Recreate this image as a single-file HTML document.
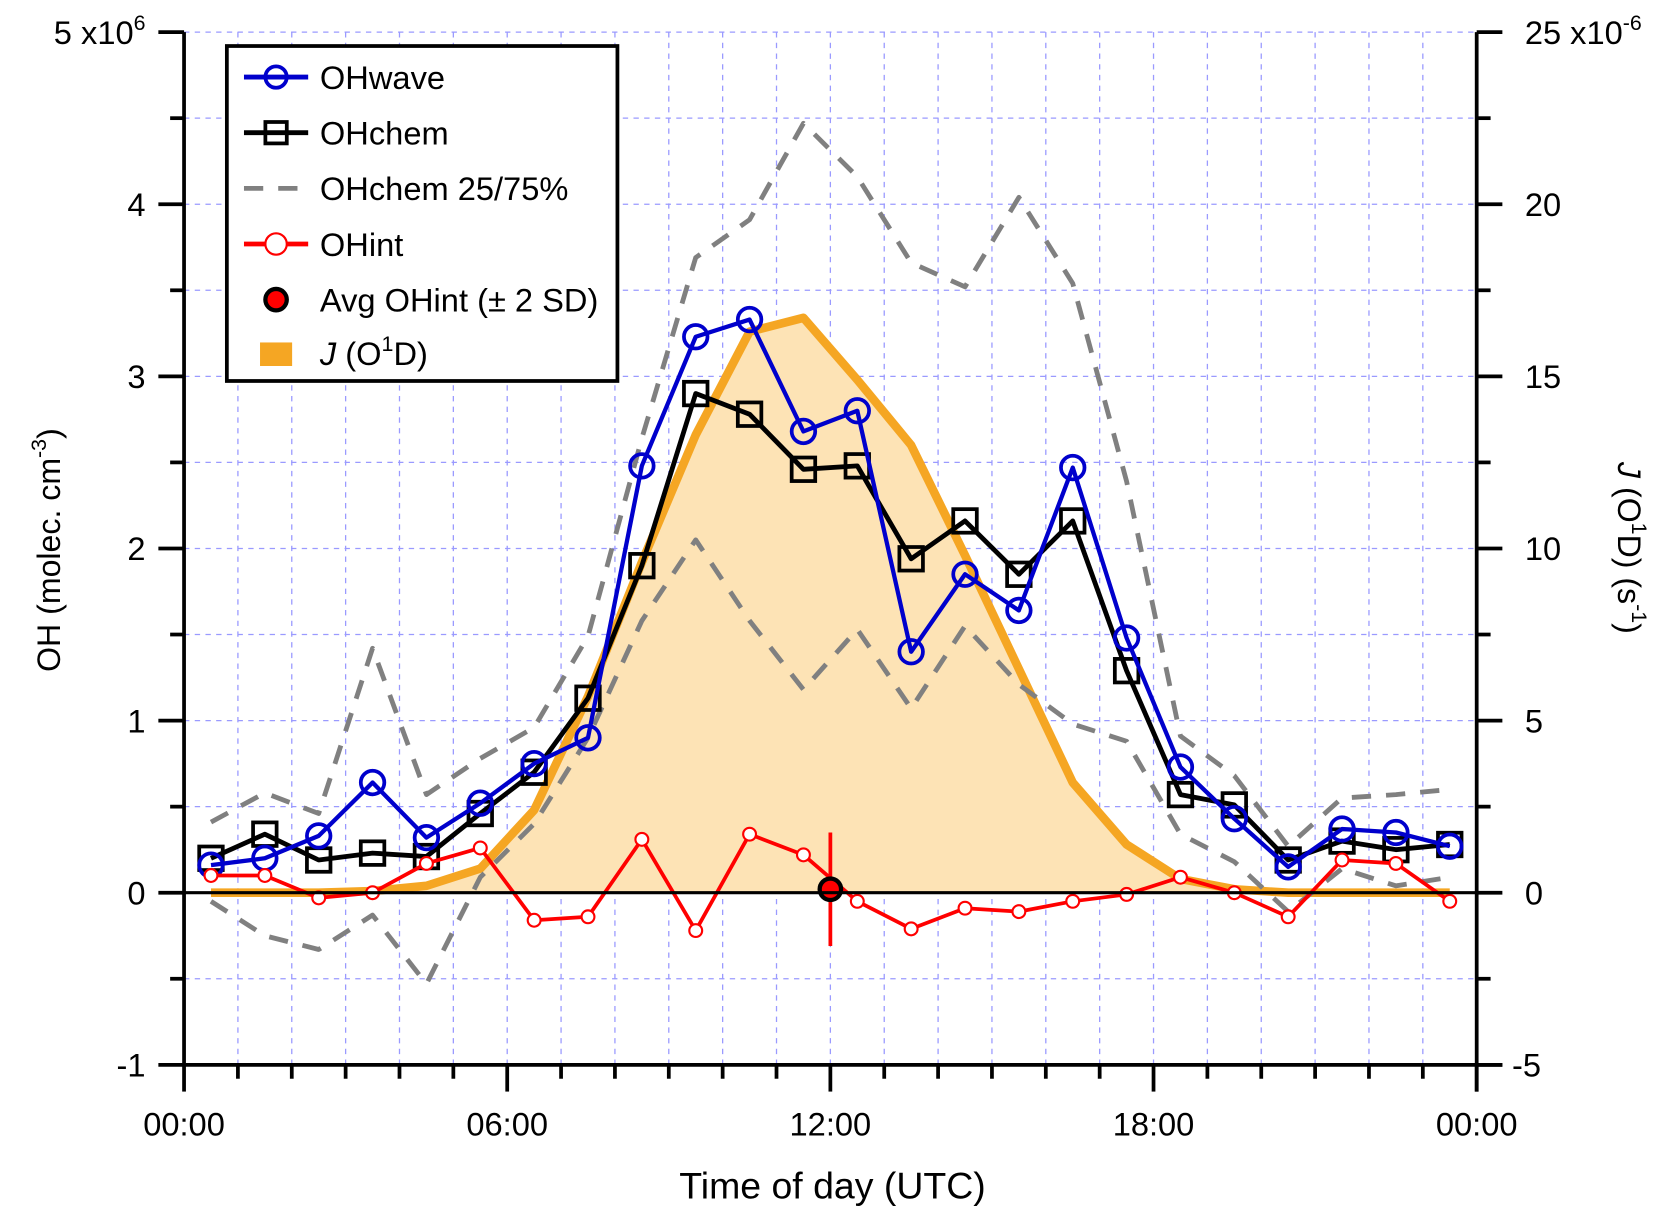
<!DOCTYPE html>
<html><head><meta charset="utf-8"><style>
html,body{margin:0;padding:0;background:#fff}
svg{display:block;font-family:"Liberation Sans",Arial,sans-serif}
</style></head><body>
<svg id="chart" width="1680" height="1220" viewBox="0 0 1570 1140" preserveAspectRatio="none" xmlns="http://www.w3.org/2000/svg">
<g id="grid"></g>
<g id="jlayer"></g>
<g id="series"></g>
<g id="axes"></g>
<text x="778" y="1120" font-size="35" text-anchor="middle">Time of day (UTC)</text>
<text transform="translate(56,514) rotate(-90)" font-size="30" text-anchor="middle">OH (molec. cm<tspan dy="-13" font-size="20">-3</tspan><tspan dy="13">)</tspan></text>
<text transform="translate(1512,512) rotate(90)" font-size="30" text-anchor="middle"><tspan font-style="italic">J</tspan> (O<tspan dy="-13" font-size="20">1</tspan><tspan dy="13">D) (s</tspan><tspan dy="-13" font-size="20">-1</tspan><tspan dy="13">)</tspan></text>
<g>
<rect x="212" y="43" width="365" height="313" fill="#fff" stroke="#000" stroke-width="3.5"/>
<g><line x1="228" y1="72" x2="288" y2="72" stroke="#0000cc" stroke-width="4.5"/><circle cx="258" cy="72" r="10" fill="none" stroke="#0000cc" stroke-width="3.5"/><text x="299" y="83" font-size="30.5">OHwave</text></g>
<g><line x1="228" y1="124" x2="288" y2="124" stroke="#000" stroke-width="4.5"/><rect x="248" y="114" width="20" height="20" fill="none" stroke="#000" stroke-width="3.5"/><text x="299" y="135" font-size="30.5">OHchem</text></g>
<g><line x1="228" y1="176" x2="288" y2="176" stroke="#808080" stroke-width="4.5" stroke-dasharray="18,14"/><text x="299" y="187" font-size="30.5">OHchem 25/75%</text></g>
<g><line x1="228" y1="228" x2="288" y2="228" stroke="#ff0000" stroke-width="4.5"/><circle cx="258" cy="228" r="10" fill="#fff" stroke="#ff0000" stroke-width="2"/><text x="299" y="239" font-size="30.5">OHint</text></g>
<g><circle cx="258" cy="280" r="10" fill="#ff0000" stroke="#000" stroke-width="4"/><text x="299" y="291" font-size="30.5">Avg OHint (± 2 SD)</text></g>
<g><rect x="243" y="320" width="30" height="22" fill="#f5a623"/><text x="299" y="341" font-size="30.5"><tspan font-style="italic">J</tspan> (O<tspan dy="-13" font-size="20">1</tspan><tspan dy="13">D)</tspan></text></g>
</g>
</svg>
<script>
const hours = [0.5,1.5,2.5,3.5,4.5,5.5,6.5,7.5,8.5,9.5,10.5,11.5,12.5,13.5,14.5,15.5,16.5,17.5,18.5,19.5,20.5,21.5,22.5,23.5];
const ohWave = [0.16,0.2,0.33,0.64,0.32,0.52,0.75,0.9,2.48,3.23,3.33,2.68,2.8,1.4,1.85,1.64,2.47,1.48,0.73,0.43,0.15,0.37,0.35,0.27];
const ohChem = [0.2,0.34,0.19,0.23,0.21,0.46,0.7,1.13,1.9,2.9,2.78,2.46,2.48,1.94,2.16,1.85,2.16,1.29,0.57,0.51,0.19,0.3,0.25,0.28];
const ohChem75 = [0.41,0.58,0.46,1.42,0.57,0.78,0.96,1.49,2.64,3.69,3.91,4.47,4.16,3.66,3.52,4.04,3.54,2.39,0.91,0.68,0.27,0.55,0.57,0.6];
const ohChem25 = [-0.05,-0.25,-0.33,-0.13,-0.53,0.09,0.4,0.9,1.58,2.05,1.58,1.18,1.53,1.07,1.55,1.21,0.98,0.88,0.34,0.18,-0.11,0.14,0.04,0.09];
const ohInt = [0.1,0.1,-0.03,0,0.17,0.26,-0.16,-0.14,0.31,-0.22,0.34,0.22,-0.05,-0.21,-0.09,-0.11,-0.05,-0.01,0.09,0,-0.14,0.19,0.17,-0.05];
const jO1D = [0,0,0,0.05,0.2,0.7,2.4,5.7,9.6,13.3,16.3,16.7,14.9,13.0,9.8,6.5,3.2,1.4,0.4,0.1,0,0,0,0];
const avgHour = [12.0];
const avgOhInt = [0.02];
const avgOhIntErr = [0.33];
const leftTicks = [-1,0,1,2,3,4,5];
const leftTickLabels = ["-1","0","1","2","3","4","5 x10"];
const rightTicks = [-5,0,5,10,15,20,25];
const xTicks = [0,6,12,18,24];
const xTickLabels = ["00:00","06:00","12:00","18:00","00:00"];

const X0=172,X1=1380,YT=30,YB=995;
const xs = h => X0 + h*(X1-X0)/24;
const yL = v => YB - (v+1)*(YB-YT)/6;
const yR = v => YB - (v+5)*(YB-YT)/30;
const NS="http://www.w3.org/2000/svg";
function mk(parent,tag,attrs){const e=document.createElementNS(NS,tag);for(const k in attrs)e.setAttribute(k,attrs[k]);parent.appendChild(e);return e;}
const grid=document.getElementById('grid'),axes=document.getElementById('axes'),ser=document.getElementById('series'),jl=document.getElementById('jlayer');

for(let h=1;h<24;h++){const l=mk(grid,'line',{x1:xs(h),x2:xs(h),y1:YT,y2:YB,stroke:'#9a9aff','stroke-width':1.2,'stroke-dasharray':'5,5'});

}
for(let v=-0.5;v<5;v+=0.5){const l=mk(grid,'line',{x1:X0,x2:X1,y1:yL(v),y2:yL(v),stroke:'#9a9aff','stroke-width':1.2,'stroke-dasharray':'5,5'});

}
{const l=mk(grid,'line',{x1:X0,x2:X1,y1:YT,y2:YT,stroke:'#9a9aff','stroke-width':1.2,'stroke-dasharray':'5,5'});

}

let jp=hours.map((h,i)=>xs(h)+','+yR(jO1D[i])).join(' ');
const jfill=mk(jl,'polygon',{points:xs(hours[0])+','+yR(0)+' '+jp+' '+xs(hours[hours.length-1])+','+yR(0),fill:'#fde3b5'});


const jline=mk(jl,'polyline',{points:jp,fill:'none',stroke:'#f5a623','stroke-width':8,'stroke-linejoin':'round'});



const zl=mk(axes,'line',{x1:X0,x2:X1,y1:yL(0),y2:yL(0),stroke:'#000','stroke-width':3});


const la=mk(axes,'line',{x1:X0,x2:X0,y1:YT,y2:YB+1,stroke:'#000','stroke-width':3.5});


const ra=mk(axes,'line',{x1:X1,x2:X1,y1:YT,y2:YB+25,stroke:'#000','stroke-width':3.5});


const ba=mk(axes,'line',{x1:X0-1,x2:X1+24,y1:YB,y2:YB,stroke:'#000','stroke-width':3.5});


for(let v=-1;v<=5.001;v+=0.5){const major=Math.abs(v-Math.round(v))<1e-6;
mk(axes,'line',{x1:X0-(major?24:13),x2:X0,y1:yL(v),y2:yL(v),stroke:'#000','stroke-width':3.5});
mk(axes,'line',{x1:X1,x2:X1+(major?24:13),y1:yL(v),y2:yL(v),stroke:'#000','stroke-width':3.5});}
leftTicks.forEach((v,i)=>{const t=mk(axes,'text',{x:X0-36,y:yL(v)+11,'font-size':30.5,'text-anchor':'end'});


t.textContent=leftTickLabels[i];
if(v===5){const s=mk(t,'tspan',{dy:-13,'font-size':20});s.textContent='6';}});
rightTicks.forEach(v=>{const t=mk(axes,'text',{x:v<0?1413:1425,y:yR(v)+11,'font-size':30.5,'text-anchor':'start'});


t.textContent=v===25?'25 x10':String(v);
if(v===25){const s=mk(t,'tspan',{dy:-13,'font-size':20});s.textContent='-6';}});
for(let h=0;h<=24;h++){const major=h%6===0;
mk(axes,'line',{x1:xs(h),x2:xs(h),y1:YB,y2:YB+(major?25:13),stroke:'#000','stroke-width':3.5});}
xTicks.forEach((h,i)=>{const t=mk(axes,'text',{x:xs(h),y:1061,'font-size':30.5,'text-anchor':'middle'});


t.textContent=xTickLabels[i];});

function line(arr,name,attrs){const p=mk(ser,'polyline',Object.assign({points:hours.map((h,i)=>xs(h)+','+yL(arr[i])).join(' '),fill:'none','stroke-linejoin':'round'},attrs));

}
line(ohChem75,'ohchem-75-line',{stroke:'#808080','stroke-width':4.5,'stroke-dasharray':'18,14'});
line(ohChem25,'ohchem-25-line',{stroke:'#808080','stroke-width':4.5,'stroke-dasharray':'18,14'});
line(ohChem,'ohchem-line',{stroke:'#000','stroke-width':4.5});
ohChem.forEach((v,i)=>{const r=mk(ser,'rect',{x:xs(hours[i])-11,y:yL(v)-11,width:22,height:22,fill:'none',stroke:'#000','stroke-width':3.5});

});
line(ohWave,'ohwave-line',{stroke:'#0000cc','stroke-width':4});
ohWave.forEach((v,i)=>{const c=mk(ser,'circle',{cx:xs(hours[i]),cy:yL(v),r:11,fill:'none',stroke:'#0000cc','stroke-width':3.5});

});
line(ohInt,'ohint-line',{stroke:'#ff0000','stroke-width':3.5});
ohInt.forEach((v,i)=>{const c=mk(ser,'circle',{cx:xs(hours[i]),cy:yL(v),r:6,fill:'#fff',stroke:'#ff0000','stroke-width':2});

});
avgHour.forEach((h,i)=>{const e=mk(ser,'line',{x1:xs(h),x2:xs(h),y1:yL(avgOhInt[i]+avgOhIntErr[i]),y2:yL(avgOhInt[i]-avgOhIntErr[i]),stroke:'#ff0000','stroke-width':3.5});


const c=mk(ser,'circle',{cx:xs(h),cy:yL(avgOhInt[i]),r:10,fill:'#ff0000',stroke:'#000','stroke-width':4});

});
</script>
</body></html>
